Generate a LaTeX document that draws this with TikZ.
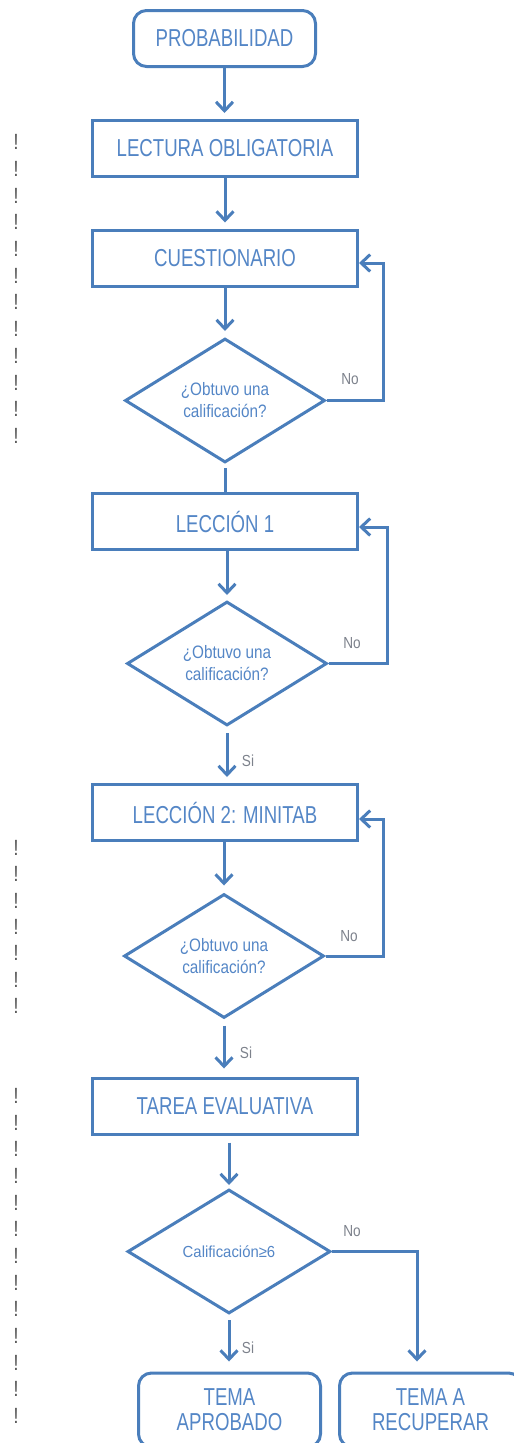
\documentclass[tikz,border=0pt]{standalone}
\usepackage{fontspec}
\setmainfont{Liberation Sans}
\newfontfamily\boxfont{Liberation Sans}[FakeStretch=0.76]
\newfontfamily\dfont{Liberation Sans}[FakeStretch=0.85]
\newfontfamily\cfont{Liberation Sans}[FakeStretch=0.93]
\newfontfamily\bangfont{Liberation Sans}[FakeStretch=0.8]
\usetikzlibrary{shapes.geometric,arrows.meta}
\definecolor{lblue}{RGB}{74,126,187}
\definecolor{tblue}{RGB}{84,134,198}
\definecolor{lgray}{RGB}{125,130,140}
\begin{document}
\begin{tikzpicture}[x=1pt,y=-1pt,
  box/.style={draw=lblue, line width=3pt, text=tblue, minimum width=265pt, minimum height=56pt, font=\boxfont\fontsize{24.5}{25}\selectfont, inner sep=0pt},
  term/.style={box, rounded corners=13pt, minimum width=182pt, align=center},
  dec/.style={diamond, draw=lblue, line width=3pt, text=tblue, aspect=1.6, inner sep=0pt, minimum width=200pt, minimum height=124pt, align=center, font=\dfont\fontsize{18}{22}\selectfont},
  arr/.style={draw=lblue, line width=3pt, -{Straight Barb[length=9pt,width=17pt]}},
  lin/.style={draw=lblue, line width=3pt},
  lab/.style={text=lgray, font=\dfont\fontsize{16}{18}\selectfont, inner sep=0pt},
  bang/.style={text=black!70, font=\bangfont\fontsize{22}{22}\selectfont, inner sep=0pt}]
\clip (0,0) rectangle (514,1443);
% nodes
\node[term] (prob) at (224.5,38.5) {PROBABILIDAD};
\node[box] (lect) at (225,148.5) {LECTURA OBLIGATORIA};
\node[box] (cues) at (225,258) {CUESTIONARIO};
\node[dec] (d1) at (225,400.5) {¿Obtuvo una\\calificación?};
\node[box] (lec1) at (225,521.5) {LECCIÓN 1};
\node[dec] (d2) at (227,663.5) {¿Obtuvo una\\calificación?};
\node[box] (lec2) at (225,812.5) {LECCIÓN 2: MINITAB};
\node[dec] (d3) at (224,956) {¿Obtuvo una\\calificación?};
\node[box] (tarea) at (225,1106) {TAREA EVALUATIVA};
\node[dec, minimum width=203pt, font=\cfont\fontsize{16}{18}\selectfont] (d4) at (229,1251.5) {Calificación≥6};
\node[term, minimum height=74pt] (aprob) at (229.5,1410) {TEMA\\APROBADO};
\node[term, minimum height=74pt] (recup) at (430.5,1410) {TEMA A\\RECUPERAR};
% connectors
\draw[arr, shorten >=6pt] (prob.south) -- (prob.south |- lect.north);
\draw[arr, shorten >=6pt] (lect.south) -- (cues.north);
\draw[arr, shorten >=6pt] (cues.south) -- (d1.north);
\draw[arr] (d1.east) -- ++(57,0) |- ([yshift=-5pt]cues.east);
\draw[lin, shorten <=4pt] (d1.south) -- (lec1.north);
\draw[arr, shorten >=5pt] (d2.north |- lec1.south) -- (d2.north);
\draw[arr] (d2.east) -- ++(59,0) |- ([yshift=-5.5pt]lec1.east);
\draw[arr, shorten <=6pt, shorten >=6pt] (d2.south) -- (d2.south |- lec2.north);
\draw[arr, shorten >=7pt] (d3.north |- lec2.south) -- (d3.north);
\draw[arr] (d3.east) -- ++(58,0) |- ([yshift=-6.5pt]lec2.east);
\draw[arr, shorten <=6pt, shorten >=8pt] (d3.south) -- (d3.south |- tarea.north);
\draw[arr, shorten <=7pt, shorten >=3pt] (d4.north |- tarea.south) -- (d4.north);
\draw[arr, shorten <=5pt, shorten >=10pt] (d4.south) -- (d4.south |- aprob.north);
\coordinate (nocorner) at (417,1251.5);
\draw[arr, shorten >=10pt] (d4.east) -- (nocorner) -- (nocorner |- recup.north);
% labels
\node[lab] (no1) at (350,379) {No};
\node[lab] (no2) at (352,643) {No};
\node[lab] (no3) at (349,936) {No};
\node[lab] (no4) at (352,1231) {No};
\node[lab] (si2) at (248,761) {Si};
\node[lab] (si3) at (246,1053) {Si};
\node[lab] (si4) at (248,1348) {Si};
% margin marks
\foreach \i in {0,...,11} \node[bang] (ba\i) at (16,{142+\i*26.73}) {!};
\foreach \i in {0,...,6} \node[bang] (bb\i) at (16,{848+\i*26.33}) {!};
\foreach \i in {0,...,12} \node[bang] (bc\i) at (16,{1096+\i*26.67}) {!};
\end{tikzpicture}
\end{document}
